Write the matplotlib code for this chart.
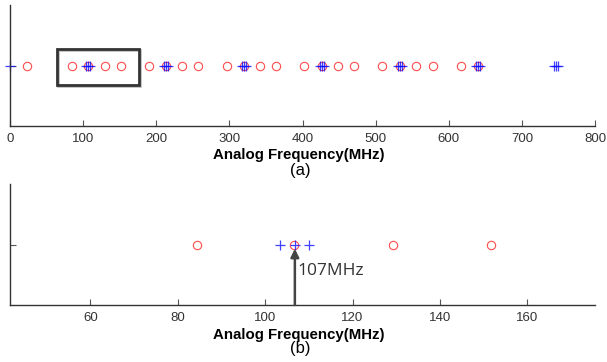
import numpy as np
import matplotlib
matplotlib.use("Agg")
import matplotlib.pyplot as plt
from matplotlib.patches import Rectangle
import matplotlib.patheffects as pe
import matplotlib.transforms as mtransforms

plt.rcParams['font.family'] = ['Liberation Sans', 'DejaVu Sans']

# spectral lines (MHz)
circle_freqs = [22.8, 84.4, 106.7, 129.3, 151.6,
                190.4, 213.3, 235.0, 257.6,
                296.7, 320.0, 342.1, 363.5,
                402.1, 426.7, 449.0, 470.8,
                508.9, 533.3, 554.7, 577.9,
                616.6, 640.0]
plus_freqs = [0.0,
              103.5, 106.8, 110.0,
              210.0, 213.3, 216.7,
              316.7, 320.0, 323.3,
              423.3, 426.7, 430.0,
              530.0, 533.3, 536.7,
              636.7, 640.0, 643.3,
              743.3, 746.7, 750.0]

top_ticks = [0, 100, 200, 300, 400, 500, 600, 700, 800]
bot_ticks = [60, 80, 100, 120, 140, 160]
marked_freq = 106.8
marked_label = "107MHz"

fig = plt.figure(figsize=(6.07, 3.62), dpi=100)
ax1 = fig.add_axes([10 / 607, 1 - 126 / 362, 585 / 607, 121 / 362])
ax2 = fig.add_axes([10 / 607, 1 - 305 / 362, 585 / 607, 121 / 362])

for ax in (ax1, ax2):
    ax.plot(circle_freqs, np.ones(len(circle_freqs)), 'o', mfc='none',
            mec='#ff2020', ms=6, mew=0.8, alpha=0.8)
    ax.plot(plus_freqs, np.ones(len(plus_freqs)), '+', color='#1010ff',
            ms=7, mew=0.9, alpha=0.8)
    ax.set_ylim(0, 2)
    ax.set_yticks([1])
    ax.set_yticklabels([])
    ax.spines['top'].set_visible(False)
    ax.spines['right'].set_visible(False)
    for s in ('left', 'bottom'):
        ax.spines[s].set_color('#333333')
        ax.spines[s].set_linewidth(1.0)
    ax.tick_params(direction='in', length=4, width=0.8, color='#555555',
                   labelsize=9.5, labelcolor='#333333', pad=5)

ax1.set_xlim(0, 800)
ax1.set_xticks(top_ticks)
ax2.set_xlim(41.6, 175.5)
ax2.set_xticks(bot_ticks)
# the DC line sits on the left spine and is drawn in full
for ln in ax1.lines:
    ln.set_clip_on(False)

# zoom box in the top panel
trans = mtransforms.blended_transform_factory(ax1.transData, ax1.transAxes)
box = Rectangle((63.6, 0.34), 112.2, 0.296, transform=trans, fill=False,
                edgecolor='#333333', linewidth=2.0, clip_on=False,
                path_effects=[pe.SimpleLineShadow(offset=(1, -1), shadow_color='gray', alpha=0.5),
                              pe.Normal()])
ax1.add_patch(box)

# arrow at 107 MHz
ax2.annotate('', xy=(marked_freq, 0.93), xytext=(marked_freq, 0),
             arrowprops=dict(arrowstyle='-|>', color='#444444', lw=1.8,
                             mutation_scale=12, shrinkA=0, shrinkB=0))
ax2.text(marked_freq + 0.6, 0.56, marked_label, fontsize=12.5,
         color='#333333', va='center', ha='left', family=['Open Sans', 'DejaVu Sans'])

fig.text(299 / 607, 1 - 155 / 362, "Analog Frequency(MHz)", ha='center', va='center',
         fontsize=10.8, fontweight='bold', color='black')
fig.text(300 / 607, 1 - 171 / 362, "(a)", ha='center', va='center', fontsize=12, color='black')
fig.text(299 / 607, 1 - 335 / 362, "Analog Frequency(MHz)", ha='center', va='center',
         fontsize=10.8, fontweight='bold', color='black')
fig.text(300 / 607, 1 - 349 / 362, "(b)", ha='center', va='center', fontsize=12, color='black')

fig.savefig('out.png', dpi=100)
